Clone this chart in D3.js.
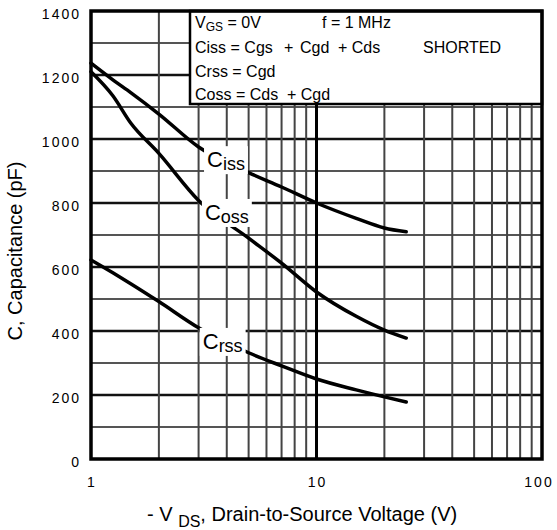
<!DOCTYPE html>
<html>
<head>
<meta charset="utf-8">
<script src="https://cdn.jsdelivr.net/npm/d3@7"></script>
<style>
  body { margin: 0; background: #fff; }
  svg { display: block; font-family: "Liberation Sans", Arial, sans-serif; }
</style>
</head>
<body>
<script>
// drain-to-source voltage (V) and the three capacitances (pF)
const vds  = [1, 1.25, 1.5, 2, 3, 5, 7, 10, 15, 20, 25];
const ciss = [1237, 1185, 1145, 1078, 975, 895, 850, 800, 752, 722, 710];
const coss = [1210, 1135, 1050, 955, 808, 690, 612, 522, 446, 403, 378];
const crss = [622, 582, 548, 492, 410, 332, 291, 250, 216, 194, 178];

const yTicks = [0, 200, 400, 600, 800, 1000, 1200, 1400];
const xTicks = [1, 10, 100];
const xMinor = [2, 3, 4, 5, 6, 7, 8, 9, 20, 30, 40, 50, 60, 70, 80, 90];
const yGrid = d3.range(100, 1400, 100);

// curve labels: name, subscript, anchor voltage, anchor capacitance
const curveLabels = [
    { main: "C", sub: "iss", v: 3.27, c: 912 },
    { main: "C", sub: "oss", v: 3.2, c: 747 },
    { main: "C", sub: "rss", v: 3.13, c: 344 }
];

const width = 557, height = 530;
const x = d3.scaleLog().domain([1, 100]).range([91, 542]);
const y = d3.scaleLinear().domain([0, 1400]).range([459, 11]);

const svg = d3.select("body").append("svg")
    .attr("width", width)
    .attr("height", height);

// grid
svg.append("g")
    .selectAll("line")
    .data(yGrid)
    .join("line")
    .attr("x1", x(1)).attr("x2", x(100))
    .attr("y1", d => y(d)).attr("y2", d => y(d))
    .attr("stroke", d => d % 200 === 0 ? "#111" : "#555")
    .attr("stroke-width", d => d % 200 === 0 ? 2.5 : 2);

svg.append("g")
    .selectAll("line")
    .data(xMinor)
    .join("line")
    .attr("x1", d => x(d)).attr("x2", d => x(d))
    .attr("y1", y(0)).attr("y2", y(1400))
    .attr("stroke", "#444")
    .attr("stroke-width", 2);

svg.append("line")
    .attr("x1", x(10)).attr("x2", x(10))
    .attr("y1", y(0)).attr("y2", y(1400))
    .attr("stroke", "#000")
    .attr("stroke-width", 3);

// curves
const line = d3.line()
    .x((d, i) => x(vds[i]))
    .y(d => y(d))
    .curve(d3.curveMonotoneX);

svg.append("g")
    .attr("fill", "none")
    .attr("stroke", "#000")
    .attr("stroke-width", 3.5)
    .attr("stroke-linecap", "round")
    .attr("stroke-linejoin", "round")
    .selectAll("path")
    .data([ciss, coss, crss])
    .join("path")
    .attr("d", line);

// curve labels with white boxes behind them
curveLabels.forEach(l => {
    const g = svg.append("g");
    const bg = g.append("rect").attr("fill", "#fff");
    const t = g.append("text")
        .attr("x", x(l.v))
        .attr("y", y(l.c));
    t.append("tspan").attr("font-size", 22).text(l.main);
    t.append("tspan").attr("font-size", 18).attr("dy", 3).text(l.sub);
    const b = t.node().getBBox();
    bg.attr("x", b.x - 3).attr("y", b.y - 1)
        .attr("width", b.width + 6).attr("height", b.height + 1);
});

// legend box
svg.append("rect")
    .attr("x", 190).attr("y", y(1400))
    .attr("width", x(100) - 190).attr("height", 93)
    .attr("fill", "#fff")
    .attr("stroke", "#000")
    .attr("stroke-width", 2.5);

const leg = svg.append("g").attr("font-size", 16).attr("fill", "#000");

const r1 = leg.append("text").attr("y", 28);
r1.append("tspan").attr("x", 195).text("V");
r1.append("tspan").attr("font-size", 12).attr("dy", 3).text("GS");
r1.append("tspan").attr("dy", -3).text(" = 0V");
r1.append("tspan").attr("x", 322).text("f = 1 MHz");

const r2 = leg.append("text").attr("y", 53);
r2.append("tspan").attr("x", 195).text("Ciss = Cgs");
r2.append("tspan").attr("x", 284).text("+");
r2.append("tspan").attr("x", 300).text("Cgd");
r2.append("tspan").attr("x", 338).text("+ Cds");
r2.append("tspan").attr("x", 423).text("SHORTED");

leg.append("text").attr("x", 195).attr("y", 77).text("Crss = Cgd");

const r4 = leg.append("text").attr("y", 100);
r4.append("tspan").attr("x", 195).text("Coss = Cds");
r4.append("tspan").attr("x", 287).text("+ Cgd");

// frame
svg.append("rect")
    .attr("x", x(1)).attr("y", y(1400))
    .attr("width", x(100) - x(1)).attr("height", y(0) - y(1400))
    .attr("fill", "none")
    .attr("stroke", "#000")
    .attr("stroke-width", 3.5);

// tick labels
svg.append("g")
    .attr("font-size", 14)
    .attr("letter-spacing", "2px")
    .attr("text-anchor", "end")
    .selectAll("text")
    .data(yTicks)
    .join("text")
    .attr("x", 81)
    .attr("y", d => y(d) + 3)
    .attr("dy", "0.35em")
    .text(d => d);

svg.append("g")
    .attr("font-size", 14)
    .attr("letter-spacing", "2px")
    .attr("text-anchor", "middle")
    .selectAll("text")
    .data(xTicks)
    .join("text")
    .attr("x", d => Math.min(x(d), 538) + 1)
    .attr("y", 487)
    .text(d => d);

// axis titles
const xt = svg.append("text")
    .attr("x", 147)
    .attr("y", 521)
    .attr("font-size", 20);
xt.append("tspan").text("- V ");
xt.append("tspan").attr("font-size", 16).attr("dy", 6).text("DS");
xt.append("tspan").attr("dy", -6).text(", Drain-to-Source Voltage (V)");

svg.append("text")
    .attr("transform", "translate(22,251) rotate(-90)")
    .attr("text-anchor", "middle")
    .attr("font-size", 20)
    .text("C, Capacitance (pF)");
</script>
</body>
</html>
